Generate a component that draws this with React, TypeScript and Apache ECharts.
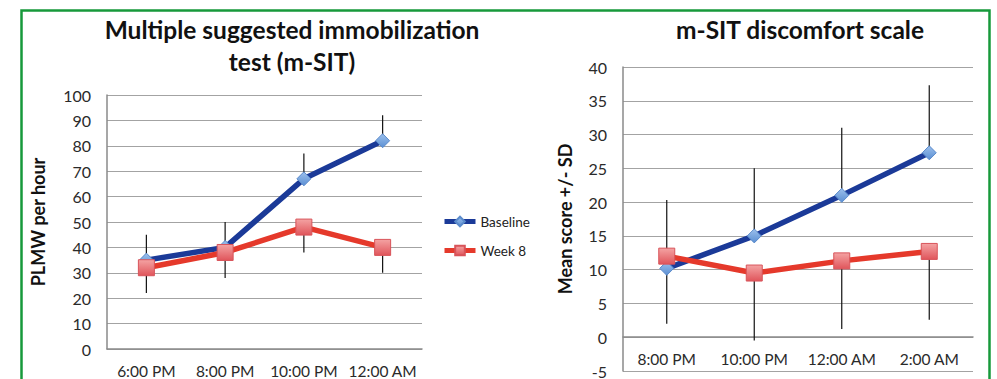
import React, { useEffect, useRef } from "react";
import * as echarts from "echarts";

const leftCategories = ["6:00 PM", "8:00 PM", "10:00 PM", "12:00 AM"];
const leftBaseline = [35, 40, 67, 82];
const leftWeek8 = [32, 38, 48, 40];
const leftBaselineUpper = [45, 50, 77, 92];
const leftWeek8Lower = [22, 28, 38, 30];

const rightCategories = ["8:00 PM", "10:00 PM", "12:00 AM", "2:00 AM"];
const rightBaseline = [10.2, 15, 21, 27.3];
const rightWeek8 = [12, 9.5, 11.3, 12.7];
const rightBaselineUpper = [20.3, 25, 31, 37.3];
const rightWeek8Lower = [2, -0.5, 1.2, 2.6];

const leftTitle = "Multiple suggested immobilization\ntest (m-SIT)";
const rightTitle = "m-SIT discomfort scale";
const leftYName = "PLMW per hour";
const rightYName = "Mean score +/- SD";

const FONT = "Lato";
const BLUE = "#1b3a98";
const RED = "#e5392b";

function errData(vals: number[], ends: number[]) {
  return vals.map((v, i) => [i, v, ends[i]]);
}

function errSeries(xi: number, data: number[][]) {
  return {
    type: "custom",
    xAxisIndex: xi,
    yAxisIndex: xi,
    z: 1,
    silent: true,
    encode: { x: 0, y: [1, 2] },
    data,
    renderItem: (params: any, api: any) => {
      const a = api.coord([api.value(0), api.value(1)]);
      const b = api.coord([api.value(0), api.value(2)]);
      return {
        type: "line",
        shape: { x1: a[0], y1: a[1], x2: b[0], y2: b[1] },
        style: { stroke: "#111", lineWidth: 1.2 },
      };
    },
  };
}

const baselineMarker = {
  color: new echarts.graphic.LinearGradient(0, 0, 0, 1, [
    { offset: 0, color: "#9cc0ec" },
    { offset: 1, color: "#5b8fd3" },
  ]),
  borderColor: "#5a8acb",
  borderWidth: 1,
};
const week8Marker = {
  color: new echarts.graphic.LinearGradient(0, 0, 0, 1, [
    { offset: 0, color: "#f4a3a3" },
    { offset: 1, color: "#e0555b" },
  ]),
  borderColor: "#d8545a",
  borderWidth: 1,
};

function lineSeries(name: string, xi: number, data: number[], isBase: boolean) {
  return {
    name,
    type: "line",
    xAxisIndex: xi,
    yAxisIndex: xi,
    data,
    z: 3,
    symbol: isBase ? "diamond" : "rect",
    symbolSize: isBase ? 14 : 16,
    lineStyle: { color: isBase ? BLUE : RED, width: 5.5 },
    itemStyle: isBase ? baselineMarker : week8Marker,
  };
}

function xAxis(gi: number, cats: string[], offset: number) {
  return {
    type: "category",
    gridIndex: gi,
    data: cats,
    boundaryGap: true,
    offset,
    axisTick: { show: false },
    axisLine: { show: true, onZero: false, lineStyle: { color: "#8a8a8a", width: 1.5 } },
    axisLabel: { fontFamily: FONT, fontSize: 15.5, color: "#2a2a2a", margin: 14, interval: 0 },
  };
}

function yAxis(gi: number, min: number, max: number, interval: number, name: string, gap: number) {
  return {
    type: "value",
    gridIndex: gi,
    min,
    max,
    interval,
    name,
    nameLocation: "middle",
    nameGap: gap,
    nameTextStyle: { fontFamily: FONT, fontSize: 18, fontWeight: "bold", color: "#111" },
    axisTick: { show: false },
    axisLine: { show: true, lineStyle: { color: "#8a8a8a", width: 1.5 } },
    splitLine: { show: true, lineStyle: { color: "#a3a3a3", width: 1.2 } },
    axisLabel: { fontFamily: FONT, fontSize: 16, color: "#2a2a2a", margin: 16 },
  };
}

export default function App() {
  const ref = useRef<HTMLDivElement>(null);
  useEffect(() => {
    if (!ref.current) return;
    const chart = echarts.init(ref.current, null, { renderer: "svg" });
    chart.setOption({
      animation: false,
      backgroundColor: "#ffffff",
      grid: [
        { left: 107, right: 575, top: 95, bottom: 30 },
        { left: 623, right: 24, top: 67, bottom: 7 },
      ],
      xAxis: [xAxis(0, leftCategories, 0), xAxis(1, rightCategories, -34.3)],
      yAxis: [
        yAxis(0, 0, 100, 10, leftYName, 60),
        yAxis(1, -5, 40, 5, rightYName, 49),
      ],
      legend: {
        data: ["Baseline", "Week 8"],
        orient: "vertical",
        left: 442,
        top: 214.5,
        padding: 0,
        itemWidth: 31,
        itemHeight: 12,
        itemGap: 15,
        lineStyle: { width: 5 },
        textStyle: { fontFamily: FONT, fontSize: 13.5, color: "#222" },
        selectedMode: false,
      },
      graphic: [
        {
          type: "rect",
          shape: { x: 21.5, y: 10.5, width: 968, height: 420 },
          style: { fill: "none", stroke: "#17993b", lineWidth: 2.5 },
          silent: true,
        },
        {
          type: "text",
          x: 292,
          y: 45,
          style: {
            text: leftTitle,
            fontFamily: FONT,
            fontSize: 24.5,
            fontWeight: "bold",
            fill: "#111",
            textAlign: "center",
            textVerticalAlign: "middle",
            lineHeight: 32,
          },
        },
        {
          type: "text",
          x: 800,
          y: 29,
          style: {
            text: rightTitle,
            fontFamily: FONT,
            fontSize: 24.5,
            fontWeight: "bold",
            fill: "#111",
            textAlign: "center",
            textVerticalAlign: "middle",
          },
        },
      ],
      series: [
        errSeries(0, errData(leftBaseline, leftBaselineUpper)),
        errSeries(0, errData(leftWeek8, leftWeek8Lower)),
        errSeries(1, errData(rightBaseline, rightBaselineUpper)),
        errSeries(1, errData(rightWeek8, rightWeek8Lower)),
        lineSeries("Baseline", 0, leftBaseline, true),
        lineSeries("Week 8", 0, leftWeek8, false),
        lineSeries("Baseline", 1, rightBaseline, true),
        lineSeries("Week 8", 1, rightWeek8, false),
      ],
    });
    return () => chart.dispose();
  }, []);
  return (
    <div
      ref={ref}
      style={{ position: "fixed", left: 0, top: 0, width: 997, height: 379, background: "#fff" }}
    />
  );
}
